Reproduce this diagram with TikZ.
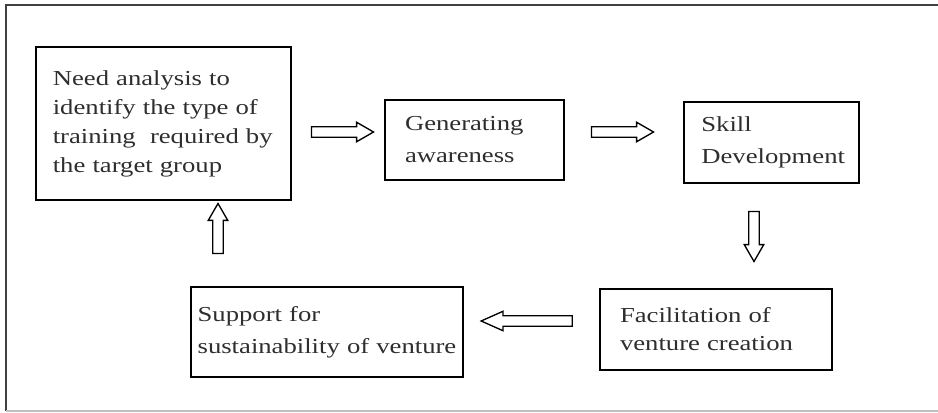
\documentclass[tikz,border=0pt]{standalone}
\usepackage{fontspec}
\setmainfont{Liberation Serif}[FakeStretch=1.25]
\usetikzlibrary{shapes.arrows}
\hyphenpenalty=10000
\exhyphenpenalty=10000
\tikzset{
  box/.style = {draw, rectangle, line width = 1.4pt, align = left, text = black!82,
    font = \fontsize{16}{24}\selectfont, inner ysep = 0pt},
  blockarrow/.style = {single arrow, draw, line width = 1pt, inner xsep = 0pt,
    inner ysep = 3.4pt, single arrow head extend = 3.4pt,
    single arrow tip angle = 60, minimum width = 0pt}
}
\begin{document}
\begin{tikzpicture}[x = 0.75pt, y = -0.75pt]
\useasboundingbox (0,0) rectangle (938,413);
\draw [black!75, line width = 1.3pt] (945,5) -- (6,5) -- (6,411);
\draw [black!25, line width = 1.3pt] (6,411) -- (945,411);
\node (need) at (163.5,123.5) [box, font = \fontsize{16}{21.75}\selectfont, text width = 166pt, inner xsep = 12.5pt, minimum height = 114.75pt]
  {Need~analysis~to\\ identify~the~type~of\\ training~~required~by\\ the~target~group};
\node (aware) at (474.5,140) [box, text width = 104.25pt, inner xsep = 15pt, minimum height = 60pt]
  {Generating\\ awareness};
\node (skill) at (771.5,142.5) [box, text width = 105.25pt, inner xsep = 13pt, minimum height = 60.75pt]
  {Skill\\ Development};
\node (venture) at (716,329.5) [box, font = \fontsize{16}{21}\selectfont, text width = 144pt, inner xsep = 15pt, minimum height = 60.75pt]
  {Facilitation~of\\ venture~creation};
\node (support) at (327,332) [box, text width = 194pt, inner xsep = 5pt, minimum height = 67.5pt]
  {Support~for\\ sustainability~of~venture};
\node (a1) at (338,132) [blockarrow, minimum height = 46.5pt] {};
\node (a2) at (618,132) [blockarrow, minimum height = 46.5pt] {};
\node (a3) at (754,232) [blockarrow, minimum height = 37.5pt, rotate = 270] {};
\node (a4) at (532.5,321) [blockarrow, minimum height = 68.25pt, single arrow tip angle = 48, rotate = 180] {};
\node (a5) at (218,233) [blockarrow, minimum height = 37.5pt, rotate = 90] {};
\end{tikzpicture}
\end{document}
